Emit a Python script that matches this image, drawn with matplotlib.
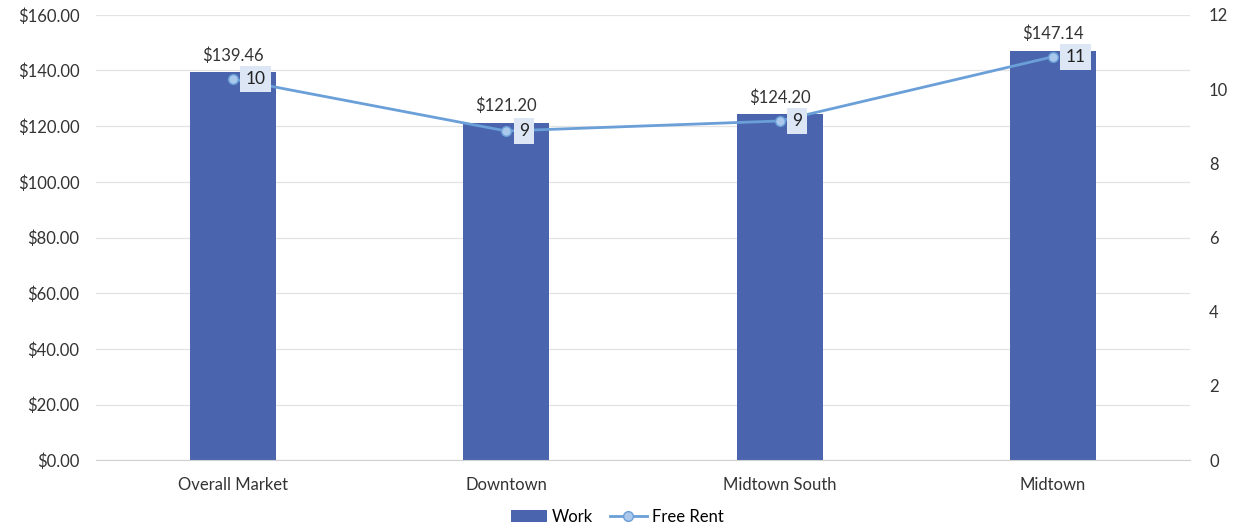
import matplotlib
matplotlib.use('agg')
import matplotlib.pyplot as plt
from matplotlib.ticker import FuncFormatter, MultipleLocator

plt.rcParams['font.family'] = ['Lato', 'DejaVu Sans']

categories = ['Overall Market', 'Downtown', 'Midtown South', 'Midtown']
work = [139.46, 121.20, 124.20, 147.14]
free_rent = [10.27, 8.87, 9.14, 10.87]

bar_color = '#4A65AE'
line_color = '#6A9FD8'

fig = plt.figure(figsize=(12.34, 5.29), dpi=100)
ax = fig.add_axes([0.078, 0.130, 0.886, 0.842])
ax2 = ax.twinx()

x = list(range(len(categories)))
bars = ax.bar(x, work, width=0.315, color=bar_color, label='Work', zorder=2)
for xi, v in zip(x, work):
    ax.text(xi, v + 3, f'${v:,.2f}', ha='center', va='bottom', fontsize=12, color='#333333')

line, = ax2.plot(x, free_rent, color=line_color, linewidth=2, marker='o', markersize=7,
                 markerfacecolor='#A9C8EC', markeredgecolor=line_color, label='Free Rent', zorder=3)
for xi, v in zip(x, free_rent):
    ax2.annotate(f'{round(v)}', (xi, v), xytext=(9, 0), textcoords='offset points',
                 ha='left', va='center', fontsize=12.5, color='#222222',
                 bbox=dict(boxstyle='square,pad=0.3', fc='#DCE6F4', ec='none'))

ax.set_xlim(-0.5, 3.5)
ax.set_ylim(0, 160)
ax2.set_ylim(0, 12)
ax.yaxis.set_major_locator(MultipleLocator(20))
ax2.yaxis.set_major_locator(MultipleLocator(2))
ax.yaxis.set_major_formatter(FuncFormatter(lambda v, p: f'${v:,.2f}'))
ax.set_xticks(x)
ax.set_xticklabels(categories)

ax.grid(axis='y', color='#E3E3E3', linewidth=0.9, zorder=0)
ax.set_axisbelow(True)
for a in (ax, ax2):
    for s in a.spines.values():
        s.set_visible(False)
    a.tick_params(length=0, labelsize=12, colors='#333333')
ax.spines['bottom'].set_visible(True)
ax.spines['bottom'].set_color('#D0D0D0')
ax.tick_params(axis='x', pad=12)
ax.tick_params(axis='y', pad=12)
ax2.tick_params(axis='y', pad=14)

fig.legend([bars, line], ['Work', 'Free Rent'], loc='lower center', bbox_to_anchor=(0.5, -0.02),
           ncol=2, frameon=False, fontsize=12, handlelength=2.2, columnspacing=1.0, handletextpad=0.3)

fig.savefig('out.png', dpi=100)
